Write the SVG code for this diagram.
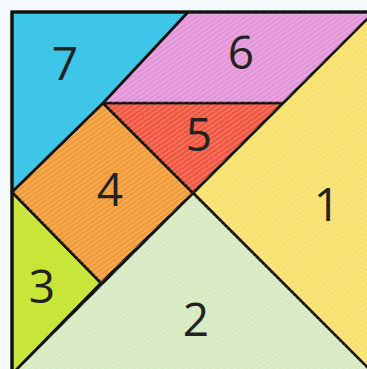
<svg xmlns="http://www.w3.org/2000/svg" width="367" height="369" viewBox="0 0 367 369">
  <defs>
    <pattern id="stripes" width="4" height="4" patternUnits="userSpaceOnUse" patternTransform="rotate(-35)">
      <rect x="0" y="0" width="4" height="1.2" fill="#ffffff" fill-opacity="0.25"/>
    </pattern>
    <style>
      .piece { stroke: #111; stroke-width: 2.6; stroke-linejoin: round; }
      .tex { fill: url(#stripes); stroke: none; }
      .lbl { font-family: "Open Sans", "Liberation Sans", sans-serif; font-size: 46px; fill: #222; text-anchor: middle; }
    </style>
  </defs>
  <rect x="0" y="0" width="367" height="369" fill="#f4f9fb"/>
  <g id="piece1">
    <polygon class="piece" points="374,12 193,193 374,374" fill="#f8e06a"/>
    <polygon class="tex" points="374,12 193,193 374,374"/>
    <text class="lbl" x="327" y="221">1</text>
  </g>
  <g id="piece2">
    <polygon class="piece" points="193,193 374,374 12,374" fill="#d6eac0"/>
    <polygon class="tex" points="193,193 374,374 12,374"/>
    <text class="lbl" x="196" y="336">2</text>
  </g>
  <g id="piece3">
    <polygon class="piece" points="12,192 101,283 12,374" fill="#c8e63a"/>
    <text class="lbl" x="42" y="303">3</text>
  </g>
  <g id="piece4">
    <polygon class="piece" points="12,192 103,103 193,193 101,283" fill="#f29a36"/>
    <polygon class="tex" points="12,192 103,103 193,193 101,283"/>
    <text class="lbl" x="110" y="206">4</text>
  </g>
  <g id="piece5">
    <polygon class="piece" points="103,103 283,103 193,193" fill="#f0553e"/>
    <polygon class="tex" points="103,103 283,103 193,193"/>
    <text class="lbl" x="199" y="151">5</text>
  </g>
  <g id="piece6">
    <polygon class="piece" points="103,103 188,12 374,12 283,103" fill="#e394d8"/>
    <polygon class="tex" points="103,103 188,12 374,12 283,103"/>
    <text class="lbl" x="241" y="69">6</text>
  </g>
  <g id="piece7">
    <polygon class="piece" points="12,12 188,12 103,103 12,192" fill="#3ec6e8"/>
    <text class="lbl" x="65" y="80">7</text>
  </g>
  <g id="connectors">
    <rect x="12" y="12" width="362" height="362" fill="none" stroke="#111" stroke-width="3.2"/>
  </g>
</svg>
